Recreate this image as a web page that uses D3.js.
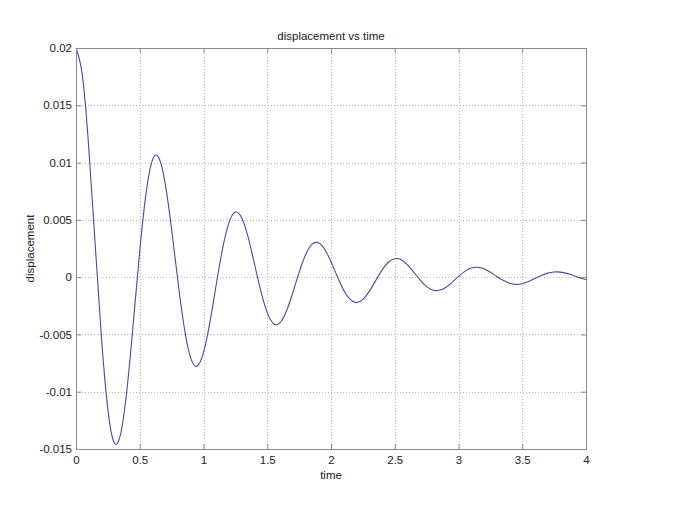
<!DOCTYPE html>
<html>
<head>
<meta charset="utf-8">
<script src="https://cdn.jsdelivr.net/npm/d3@7"></script>
<style>
  body { margin: 0; background: #fff; }
  svg { display: block; font-family: "Liberation Sans", Arial, sans-serif; }
  .tick text { font-size: 11.5px; fill: #222; }
</style>
</head>
<body>
<svg width="691" height="521"></svg>
<script>
// time samples (s) and displacement
var time = d3.range(0, 81).map(function (k) { return k * 0.05; });
var displacement = [
  0.02, 0.01761, 0.01130, 0.00293, -0.00532, -0.01154, -0.01446, -0.01369, -0.00978, -0.00394,
  0.00228, 0.00736, 0.01023, 0.01042, 0.00814, 0.00416, -0.00042, -0.00446, -0.00707, -0.00777,
  -0.00657, -0.00394, -0.00064, 0.00251, 0.00476, 0.00568, 0.00517, 0.00350, 0.00116, -0.00123,
  -0.00310, -0.00407, -0.00398, -0.00297, -0.00136, 0.00042, 0.00193, 0.00286, 0.00300, 0.00244,
  0.00135, 0.00005, -0.00114, -0.00195, -0.00222, -0.00194, -0.00124, -0.00031, 0.00061, 0.00130,
  0.00161, 0.00151, 0.00107, 0.00042, -0.00026, -0.00083, -0.00114, -0.00115, -0.00090, -0.00045,
  0.00006, 0.00050, 0.00079, 0.00086, 0.00073, 0.00043, 0.00006, -0.00028, -0.00053, -0.00063,
  -0.00057, -0.00038, -0.00012, 0.00014, 0.00035, 0.00045, 0.00044, 0.00033, 0.00015, -0.00005,
  -0.00022
];
var xTicks = [0, 0.5, 1, 1.5, 2, 2.5, 3, 3.5, 4];
var yTicks = [-0.015, -0.01, -0.005, 0, 0.005, 0.01, 0.015, 0.02];

var svg = d3.select("svg");
var plotL = 76, plotR = 586, plotT = 48, plotB = 449;

var x = d3.scaleLinear().domain([0, 4]).range([plotL, plotR]);
var y = d3.scaleLinear().domain([-0.015, 0.02]).range([plotB, plotT]);

var axisColor = "#8a8a8a";
var plain = function (d) { return String(d); };  // matlab style, hyphen minus

// grid
var grid = svg.append("g")
  .attr("stroke", "#b8b8b8")
  .attr("stroke-width", 1)
  .attr("stroke-dasharray", "1,2");
grid.selectAll("line.vx")
  .data(xTicks.slice(1, -1))
  .enter().append("line")
  .attr("x1", function (d) { return Math.round(x(d)) + 0.5; })
  .attr("x2", function (d) { return Math.round(x(d)) + 0.5; })
  .attr("y1", plotT).attr("y2", plotB);
grid.selectAll("line.hy")
  .data(yTicks.slice(1, -1))
  .enter().append("line")
  .attr("y1", function (d) { return Math.round(y(d)) + 0.5; })
  .attr("y2", function (d) { return Math.round(y(d)) + 0.5; })
  .attr("x1", plotL).attr("x2", plotR);

// the curve
var line = d3.line()
  .x(function (d, i) { return x(time[i]); })
  .y(function (d) { return y(d); })
  .curve(d3.curveNatural);

svg.append("path")
  .datum(displacement)
  .attr("fill", "none")
  .attr("stroke", "#4a4a9c")
  .attr("stroke-width", 1.1)
  .attr("d", line);

// axes, ticks inward like matlab
function styleAxis(g) {
  g.select(".domain").remove();
  g.selectAll(".tick line").attr("stroke", axisColor);
}

var xAxisB = svg.append("g")
  .attr("transform", "translate(0," + plotB + ")")
  .call(d3.axisBottom(x).tickValues(xTicks).tickFormat(plain).tickSizeInner(-5))
  .call(styleAxis);
xAxisB.selectAll("text").attr("y", 7).attr("dy", "0.71em");

svg.append("g")
  .attr("transform", "translate(0," + plotT + ")")
  .call(d3.axisTop(x).tickValues(xTicks).tickFormat("").tickSizeInner(-5))
  .call(styleAxis);

var yAxisL = svg.append("g")
  .attr("transform", "translate(" + plotL + ",0)")
  .call(d3.axisLeft(y).tickValues(yTicks).tickFormat(plain).tickSizeInner(-5))
  .call(styleAxis);
yAxisL.selectAll("text").attr("x", -4);

svg.append("g")
  .attr("transform", "translate(" + plotR + ",0)")
  .call(d3.axisRight(y).tickValues(yTicks).tickFormat("").tickSizeInner(-5))
  .call(styleAxis);

svg.append("rect")
  .attr("x", plotL + 0.5).attr("y", plotT + 0.5)
  .attr("width", plotR - plotL).attr("height", plotB - plotT)
  .attr("fill", "none")
  .attr("stroke", axisColor)
  .attr("stroke-width", 1);

// labels
svg.append("text")
  .attr("x", (plotL + plotR) / 2).attr("y", 40)
  .attr("text-anchor", "middle")
  .attr("font-size", "11.5px").attr("fill", "#222")
  .text("displacement vs time");

svg.append("text")
  .attr("x", (plotL + plotR) / 2).attr("y", 479)
  .attr("text-anchor", "middle")
  .attr("font-size", "11.5px").attr("fill", "#222")
  .text("time");

svg.append("text")
  .attr("transform", "translate(34," + (plotT + plotB) / 2 + ") rotate(-90)")
  .attr("text-anchor", "middle")
  .attr("font-size", "11.5px").attr("fill", "#222")
  .text("displacement");
</script>
</body>
</html>
